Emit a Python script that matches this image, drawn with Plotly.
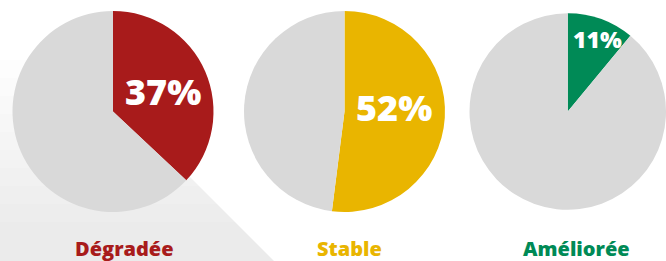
import plotly.graph_objects as go

# ---- data ----
categories = ["Dégradée", "Stable", "Améliorée"]
shares = [37, 52, 11]          # percent
rest_label = "Autres"

# ---- style ----
slice_colors = ["#A81B1B", "#E9B500", "#008A56"]
grey = "#D9D9D9"
W, H = 666, 261

# pie geometry in pixels (center x, center y, radius)
pie_cx = [113, 344.5, 570]
pie_cy = 111.5
pie_r = 100.5

# percentage text positions (pixels) and sizes
pct_pos = [(162.5, 91), (394, 108), (597.5, 38.5)]
pct_size = [36, 36, 23]
# label positions (pixels)
lab_pos = [(124.5, 248), (349, 248), (576, 248)]

fig = go.Figure()

# decorative shadow behind first pie: stacked translucent bands (pixel coords, y from top)
band_tops = [60, 78, 96, 114, 132, 150, 168, 186, 204, 222]
for yt in band_tops:
    xs = [0, 0, 274, yt + 13, 0]
    ys = [yt, H, H, yt, yt]
    fig.add_trace(go.Scatter(
        x=xs, y=[H - v for v in ys],
        mode="lines", line=dict(width=0),
        fill="toself", fillcolor="rgba(0,0,0,0.0075)",
        hoverinfo="skip", showlegend=False,
    ))

for i, (cat, v) in enumerate(zip(categories, shares)):
    x0 = max(0, (pie_cx[i] - pie_r) / W)
    x1 = min(1, (pie_cx[i] + pie_r) / W)
    y0 = (H - (pie_cy + pie_r)) / H
    y1 = (H - (pie_cy - pie_r)) / H
    fig.add_trace(go.Pie(
        labels=[cat, rest_label],
        values=[v, 100 - v],
        sort=False,
        direction="clockwise",
        rotation=0,
        marker=dict(colors=[slice_colors[i], grey], line=dict(width=0)),
        textinfo="none",
        hoverinfo="skip",
        showlegend=False,
        domain=dict(x=[x0, x1], y=[y0, y1]),
    ))
    px, py = pct_pos[i]
    fig.add_annotation(
        x=px / W, y=1 - py / H, xref="paper", yref="paper",
        text=f"{v}%", showarrow=False,
        xanchor="center", yanchor="middle",
        font=dict(family="Open Sans", size=pct_size[i], color="white", weight=800),
    )
    lx, ly = lab_pos[i]
    fig.add_annotation(
        x=lx / W, y=1 - ly / H, xref="paper", yref="paper",
        text=cat, showarrow=False,
        xanchor="center", yanchor="middle",
        font=dict(family="Open Sans", size=20, color=slice_colors[i], weight=800),
    )

fig.update_layout(
    width=W, height=H,
    margin=dict(l=0, r=0, t=0, b=0),
    paper_bgcolor="white", plot_bgcolor="rgba(0,0,0,0)",
    xaxis=dict(range=[0, W], visible=False, fixedrange=True, domain=[0, 1]),
    yaxis=dict(range=[0, H], visible=False, fixedrange=True, domain=[0, 1]),
    showlegend=False,
)

fig.write_html("out.html", config={"displayModeBar": False},
               post_script="document.body.style.margin='0';document.body.style.overflow='hidden';")
